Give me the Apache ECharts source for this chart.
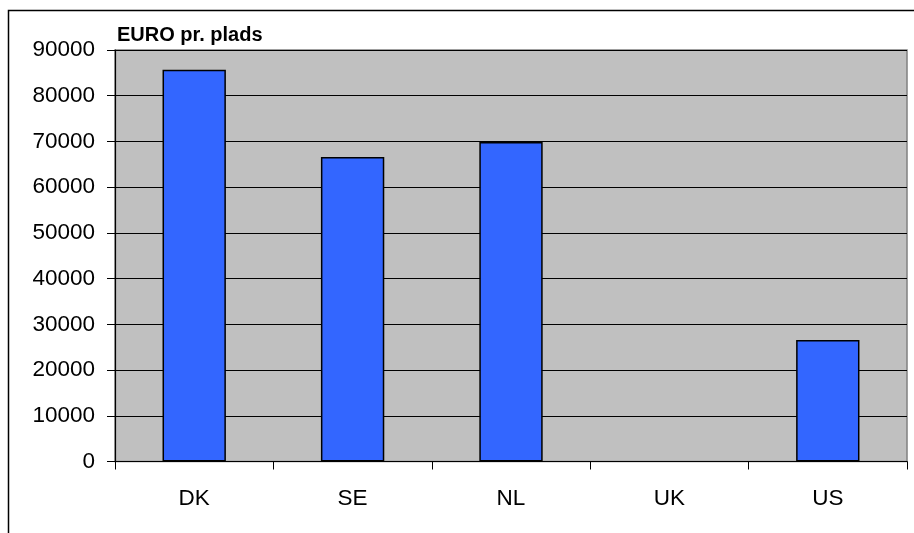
<!DOCTYPE html>
<html>
<head>
<meta charset="utf-8">
<script src="https://cdn.jsdelivr.net/npm/echarts@6/dist/echarts.min.js"></script>
<style>
html,body{margin:0;padding:0;background:#fff;}
#chart{width:914px;height:533px;}
</style>
</head>
<body>
<div id="chart"></div>
<script>
var categories = ['DK', 'SE', 'NL', 'UK', 'US'];
var values = [85700, 66600, 69900, null, 26600];
var yTicks = { min: 0, max: 90000, interval: 10000 };
var titleText = 'EURO pr. plads';

var chart = echarts.init(document.getElementById('chart'), null, { renderer: 'canvas' });
var font = 'Arial, "Liberation Sans", sans-serif';
chart.setOption({
  animation: false,
  backgroundColor: '#ffffff',
  title: {
    text: titleText,
    left: 112,
    top: 20,
    textStyle: { fontFamily: font, fontSize: 20, fontWeight: 'bold', color: '#000' }
  },
  graphic: [
    { type: 'rect', shape: { x: 8.5, y: 10.5, width: 1000, height: 1000 },
      style: { fill: 'none', stroke: '#000', lineWidth: 1.5 }, silent: true, z: -1 }
  ],
  grid: {
    left: 115, right: 7, top: 50, bottom: 71.5,
    show: true, backgroundColor: '#c0c0c0', borderColor: '#808080', borderWidth: 1.5
  },
  xAxis: {
    type: 'category',
    data: categories,
    axisLine: { lineStyle: { color: '#000', width: 1.2 } },
    axisTick: { show: true, alignWithLabel: false, length: 8, lineStyle: { color: '#000', width: 1 } },
    axisLabel: { fontFamily: font, fontSize: 22.5, color: '#000', margin: 26 }
  },
  yAxis: {
    type: 'value',
    min: yTicks.min, max: yTicks.max, interval: yTicks.interval,
    axisLine: { show: true, lineStyle: { color: '#000', width: 1.2 } },
    axisTick: { show: true, length: 8, inside: false, lineStyle: { color: '#000', width: 1 } },
    axisLabel: { fontFamily: font, fontSize: 22.5, color: '#000', margin: 20,
      formatter: function (v) { return String(v); } },
    splitLine: { show: true, lineStyle: { color: '#000', width: 1 } }
  },
  series: [{
    type: 'bar',
    data: values,
    barWidth: '40%',
    itemStyle: { color: '#3366ff', borderColor: '#000', borderWidth: 1.5 }
  }]
});
</script>
</body>
</html>
